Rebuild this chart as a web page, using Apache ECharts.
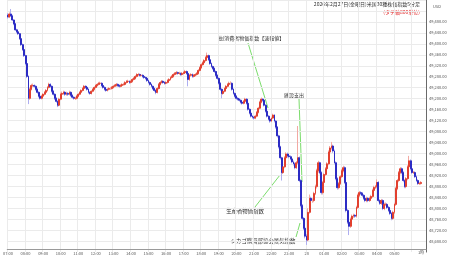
<!DOCTYPE html>
<html><head><meta charset="utf-8">
<script src="https://cdn.jsdelivr.net/npm/echarts@6/dist/echarts.min.js"></script>
<style>html,body{margin:0;padding:0;background:#fff}#c{width:450px;height:258px}</style>
</head><body><div id="c"></div>
<script>
// 5-minute candles, 2026-02-27 07:00 JST onward
const opens = [
49505,49498,49509,49502,49487,49473,49451,49444,49437,49419,49397,49379,
49357,49328,49281,49201,49234,49248,49248,49245,49234,49223,49209,49201,
49209,49216,49223,49230,49241,49252,49245,49227,49216,49201,49190,49176,
49198,49216,49219,49223,49216,49219,49216,49223,49212,49205,49201,49201,
49209,49216,49223,49230,49237,49245,49241,49234,49223,49219,49227,49234,
49241,49248,49252,49256,49256,49248,49241,49234,49230,49234,49237,49237,
49241,49245,49248,49252,49248,49245,49248,49252,49252,49259,49263,49263,
49259,49263,49270,49274,49281,49288,49288,49285,49285,49281,49277,49274,
49266,49259,49252,49245,49237,49230,49223,49237,49252,49259,49263,49259,
49256,49259,49266,49270,49277,49281,49288,49292,49295,49292,49292,49288,
49292,49295,49299,49292,49270,49285,49288,49281,49285,49288,49292,49303,
49313,49324,49331,49339,49350,49357,49342,49328,49317,49310,49299,49285,
49274,49256,49234,49219,49227,49237,49245,49252,49256,49256,49234,49219,
49209,49201,49198,49194,49187,49183,49190,49198,49183,49161,49147,49136,
49132,49129,49136,49150,49165,49187,49198,49194,49176,49154,49136,49125,
49118,49129,49140,49118,49096,49064,49024,48984,48930,48951,48984,48998,
48991,48988,48980,48969,48962,48948,48966,48984,48901,48810,48763,48727,
48698,48684,48785,48836,48828,48828,48854,48879,48937,48966,48930,48857,
48894,48923,48944,48962,49005,49020,49027,49009,48966,48908,48875,48890,
48915,48937,48948,48894,48792,48749,48734,48760,48771,48774,48771,48803,
48847,48857,48854,48847,48836,48828,48836,48828,48836,48843,48865,48876,
48879,48894,48828,48818,48828,48799,48814,48814,48803,48792,48781,48763,
48785,48814,48872,48901,48930,48944,48930,48901,48879,48908,48951,48973,
48944,48930,48930,48915,48901,48890,48890];
const closes = [
49498,49509,49502,49487,49473,49451,49444,49437,49419,49397,49379,49357,
49328,49281,49201,49234,49248,49248,49245,49234,49223,49209,49201,49209,
49216,49223,49230,49241,49252,49245,49227,49216,49201,49190,49176,49198,
49216,49219,49223,49216,49219,49216,49223,49212,49205,49201,49201,49209,
49216,49223,49230,49237,49245,49241,49234,49223,49219,49227,49234,49241,
49248,49252,49256,49256,49248,49241,49234,49230,49234,49237,49237,49241,
49245,49248,49252,49248,49245,49248,49252,49252,49259,49263,49263,49259,
49263,49270,49274,49281,49288,49288,49285,49285,49281,49277,49274,49266,
49259,49252,49245,49237,49230,49223,49237,49252,49259,49263,49259,49256,
49259,49266,49270,49277,49281,49288,49292,49295,49292,49292,49288,49292,
49295,49299,49292,49270,49285,49288,49281,49285,49288,49292,49303,49313,
49324,49331,49339,49350,49357,49342,49328,49317,49310,49299,49285,49274,
49256,49234,49219,49227,49237,49245,49252,49256,49256,49234,49219,49209,
49201,49198,49194,49187,49183,49190,49198,49183,49161,49147,49136,49132,
49129,49136,49150,49165,49187,49198,49194,49176,49154,49136,49125,49118,
49129,49140,49118,49096,49064,49024,48984,48930,48951,48984,48998,48991,
48988,48980,48969,48962,48948,48966,48984,48901,48810,48763,48727,48698,
48684,48785,48836,48828,48828,48854,48879,48937,48966,48930,48857,48894,
48923,48944,48962,49005,49020,49027,49009,48966,48908,48875,48890,48915,
48937,48948,48894,48792,48749,48734,48760,48771,48774,48771,48803,48847,
48857,48854,48847,48836,48828,48836,48828,48836,48843,48865,48876,48879,
48894,48828,48818,48828,48799,48814,48814,48803,48792,48781,48763,48785,
48814,48872,48901,48930,48944,48930,48901,48879,48908,48951,48973,48944,
48930,48930,48915,48901,48890,48890,48894];
const highs = [
49512,49515,49527,49506,49490,49476,49455,49448,49440,49422,49401,49383,
49360,49331,49285,49240,49254,49255,49252,49249,49238,49227,49213,49214,
49220,49228,49235,49246,49258,49256,49249,49231,49220,49205,49194,49203,
49222,49226,49229,49228,49225,49224,49229,49227,49216,49209,49207,49214,
49220,49227,49234,49242,49250,49249,49245,49238,49227,49231,49238,49245,
49252,49257,49261,49262,49260,49252,49245,49238,49239,49242,49243,49246,
49250,49253,49257,49256,49252,49253,49256,49258,49264,49268,49269,49267,
49268,49275,49279,49286,49293,49294,49292,49290,49289,49285,49281,49278,
49270,49263,49256,49249,49241,49234,49242,49257,49264,49268,49267,49263,
49264,49271,49275,49282,49286,49293,49297,49301,49299,49298,49296,49297,
49300,49305,49303,49296,49290,49293,49292,49290,49293,49297,49308,49318,
49329,49336,49344,49355,49368,49361,49346,49332,49321,49314,49303,49289,
49278,49260,49238,49232,49242,49250,49257,49262,49263,49260,49238,49223,
49213,49206,49202,49198,49191,49195,49203,49202,49187,49165,49151,49140,
49136,49141,49155,49170,49192,49204,49202,49198,49180,49158,49140,49129,
49134,49145,49144,49122,49100,49068,49028,48988,48957,48990,49004,49003,
48996,48993,48985,48974,48967,48972,49100,48989,48906,48815,48768,48732,
48705,48800,48850,48842,48836,48860,48886,48944,48973,48970,48935,48900,
48929,48950,48968,49011,49027,49042,49032,49014,48971,48913,48896,48921,
48943,48955,48953,48899,48797,48754,48766,48777,48780,48779,48809,48853,
48863,48862,48859,48852,48841,48842,48841,48842,48849,48871,48882,48885,
48905,48899,48833,48834,48833,48820,48821,48819,48808,48797,48786,48791,
48820,48878,48907,48936,48950,48949,48935,48906,48914,48957,48991,48978,
48949,48936,48935,48920,48906,48896,48899];
const lows = [
49492,49494,49498,49483,49468,49447,49439,49432,49414,49392,49374,49352,
49322,49275,49180,49196,49230,49242,49240,49229,49218,49204,49196,49197,
49205,49212,49219,49226,49237,49240,49222,49211,49195,49185,49169,49172,
49194,49211,49214,49210,49211,49210,49212,49207,49200,49196,49195,49197,
49205,49212,49219,49226,49233,49236,49229,49218,49214,49215,49223,49230,
49237,49244,49248,49251,49243,49236,49229,49225,49226,49230,49232,49233,
49237,49241,49244,49243,49240,49241,49244,49247,49248,49255,49258,49254,
49255,49259,49266,49270,49277,49283,49280,49280,49276,49272,49269,49261,
49254,49247,49240,49232,49225,49216,49219,49233,49248,49255,49254,49251,
49252,49255,49262,49266,49273,49277,49284,49288,49287,49287,49283,49284,
49288,49291,49287,49245,49265,49280,49276,49277,49281,49284,49288,49299,
49309,49320,49327,49335,49346,49337,49323,49312,49305,49294,49280,49269,
49251,49228,49201,49214,49223,49233,49241,49248,49251,49229,49214,49204,
49196,49193,49189,49182,49178,49179,49186,49178,49156,49142,49131,49127,
49124,49125,49132,49146,49161,49183,49189,49171,49149,49131,49120,49112,
49114,49125,49113,49090,49058,49018,48978,48901,48925,48946,48979,48985,
48982,48975,48964,48956,48942,48943,48960,48895,48803,48756,48720,48690,
48666,48680,48780,48820,48820,48822,48848,48872,48930,48924,48850,48850,
48888,48918,48938,48957,48999,49014,49002,48960,48902,48868,48869,48885,
48910,48931,48888,48785,48742,48702,48728,48754,48765,48765,48766,48797,
48841,48848,48841,48830,48822,48822,48822,48823,48830,48838,48859,48870,
48873,48822,48812,48812,48793,48793,48808,48797,48786,48775,48756,48757,
48779,48808,48866,48895,48924,48924,48895,48873,48873,48902,48945,48938,
48925,48925,48910,48896,48885,48885,48886];

// hour tick labels shown on the time axis
const hourTicks = ['07:00','08:00','09:00','10:00','11:00','12:00','13:00','14:00','15:00','16:00','17:00','18:00','19:00','20:00','21:00','22:00','23:00','00:00','01:00','02:00','03:00','04:00','05:00'];
const hourTickText = ['07:00','08:00','09:00','10:00','11:00','12:00','13:00','14:00','15:00','16:00','17:00','18:00','19:00','20:00','21:00','22:00','23:00','28','01:00','02:00','03:00','04:00','05:00'];
const gridHours = ['07:00','08:00','09:00','10:00','11:00','12:00','13:00','14:00','15:00','16:00','17:00','18:00','19:00','20:00','21:00','22:00','23:00','00:00','01:00','02:00','03:00','04:00','05:00','06:00'];

// category slots: 5-minute steps from 07:00 (286 slots span the plot)
const slots = [];
for (let m = 7 * 60; slots.length < 286; m += 5) {
  const mm = m % 1440;
  slots.push(String(Math.floor(mm / 60)).padStart(2, '0') + ':' + String(mm % 60).padStart(2, '0'));
}

const wickData = opens.map((o, i) => [o, closes[i], lows[i], highs[i]]);
const bodyData = opens.map((o, i) => [o, closes[i], Math.min(o, closes[i]), Math.max(o, closes[i])]);

const FONT = '"Noto Sans CJK JP", "Noto Sans", sans-serif';
const chart = echarts.init(document.getElementById('c'), null, {renderer: 'canvas'});
chart.setOption({
  animation: false,
  backgroundColor: '#ffffff',
  grid: {left: -1, right: 24, top: -2.1, bottom: 5.95},
  xAxis: {
    type: 'category',
    data: slots,
    boundaryGap: true,
    offset: -3,
    axisLine: {show: true, lineStyle: {color: '#9a9a9a', width: 1}},
    axisTick: {show: false},
    axisLabel: {
      interval: (idx, val) => hourTicks.indexOf(val) >= 0,
      formatter: (val) => hourTickText[hourTicks.indexOf(val)] || '',
      fontSize: 4, color: '#555', margin: 2, fontFamily: FONT
    },
    splitLine: {
      show: true,
      interval: (idx, val) => gridHours.indexOf(val) >= 0,
      lineStyle: {color: '#ebebeb', width: 1}
    }
  },
  yAxis: {
    type: 'value',
    position: 'right',
    min: 48640, max: 49560, interval: 40,
    axisLine: {show: true, lineStyle: {color: '#6a6a6a', width: 1}},
    axisTick: {show: false},
    axisLabel: {
      fontSize: 4, color: '#555', margin: 3, fontFamily: FONT,
      formatter: (v) => (v > 49480 || v < 48680) ? '' : v.toLocaleString('en-US', {minimumFractionDigits: 2, maximumFractionDigits: 2})
    },
    splitLine: {show: true, showMinLine: false, lineStyle: {color: '#ebebeb', width: 1}}
  },
  series: [
    {
      type: 'candlestick', data: wickData, barWidth: 1,
      itemStyle: {color: '#f2a9a3', color0: '#aeaef0', borderColor: '#f2a9a3', borderColor0: '#aeaef0', borderWidth: 1}
    },
    {
      type: 'candlestick', data: bodyData, barWidth: 1.4,
      itemStyle: {color: '#e2402f', color0: '#2c2cc4', borderColor: '#e2402f', borderColor0: '#2c2cc4', borderWidth: 1}
    }
  ],
  graphic: [
    {type: 'text', style: {text: '2026年2月27日(金曜日)米国30種株価指数5分足', x: 420, y: 4, align: 'right', verticalAlign: 'middle', font: '5px ' + FONT, fill: '#333'}},
    {type: 'text', style: {text: '(タテ軸800単位)', x: 420, y: 12, align: 'right', verticalAlign: 'middle', font: '5px ' + FONT, fill: '#e02a2a'}},
    {type: 'text', style: {text: 'USD', x: 437, y: 6, align: 'center', verticalAlign: 'middle', font: '4px ' + FONT, fill: '#555'}},
    {type: 'text', style: {text: '1時', x: 421, y: 252.5, align: 'center', verticalAlign: 'middle', font: '4px ' + FONT, fill: '#555'}},
    {type: 'line', shape: {x1: 248, y1: 43, x2: 268, y2: 108}, style: {stroke: '#7bdc6c', lineWidth: 1}},
    {type: 'line', shape: {x1: 299, y1: 99, x2: 302, y2: 182}, style: {stroke: '#7bdc6c', lineWidth: 1}},
    {type: 'line', shape: {x1: 255, y1: 207, x2: 280, y2: 175}, style: {stroke: '#7bdc6c', lineWidth: 1}},
    {type: 'line', shape: {x1: 296, y1: 237, x2: 300, y2: 223}, style: {stroke: '#7bdc6c', lineWidth: 1}},
    {type: 'text', style: {text: '独)消費者物価指数【速報値】', x: 251, y: 38, align: 'center', verticalAlign: 'middle', font: '5px ' + FONT, fill: '#333'}},
    {type: 'text', style: {text: '建設支出', x: 294, y: 95, align: 'center', verticalAlign: 'middle', font: '5px ' + FONT, fill: '#333'}},
    {type: 'text', style: {text: '生産者物価指数', x: 245, y: 211, align: 'center', verticalAlign: 'middle', font: '5.4px ' + FONT, fill: '#333'}},
    {type: 'text', style: {text: 'シカゴ購買部協会景気指数', x: 263, y: 241, align: 'center', verticalAlign: 'middle', font: '5.4px ' + FONT, fill: '#333'}}
  ]
});
</script>
</body></html>
